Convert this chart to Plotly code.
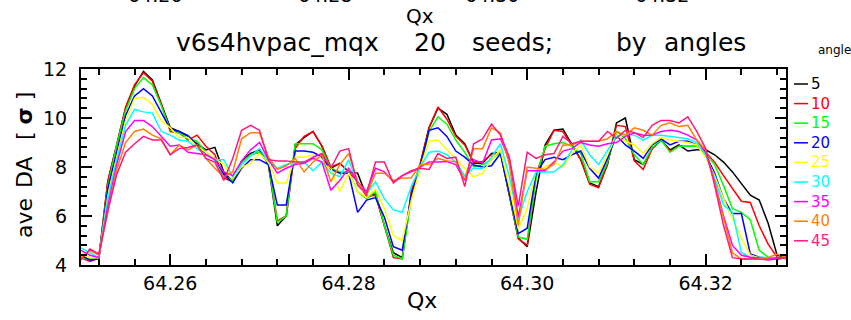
import plotly.graph_objects as go

qx = [round(64.250 + 0.001 * i, 3) for i in range(80)]

angles = ["5", "10", "15", "20", "25", "30", "35", "40", "45"]
colors = ["#000000", "#ff0000", "#00ff00", "#0000ff", "#ffff00",
          "#00ffff", "#ff00ff", "#ff8000", "#ff1a80"]

da_5 = [4.3, 4.25, 4.28, 7.4, 8.9, 10.4, 11.3, 11.9, 11.55, 10.55,
        9.6, 9.45, 9.25, 8.95, 8.7, 8.8, 7.8, 7.4, 8.25, 8.55,
        8.7, 8.1, 5.6, 6.0, 8.9, 9.2, 9.45, 8.85, 7.95, 8.15,
        7.8, 7.75, 6.8, 6.9, 5.6, 4.5, 4.3, 6.85, 8.1, 9.6,
        10.4, 10.15, 9.3, 8.95, 8.15, 8.15, 8.55, 8.6, 6.85, 5.1,
        4.75, 7.0, 8.9, 9.5, 9.55, 8.9, 8.3, 7.35, 7.2, 8.1,
        9.8, 10.0, 8.3, 8.1, 8.75, 9.1, 8.7, 8.9, 8.65, 8.7,
        8.7, 8.5, 8.2, 7.8, 7.3, 6.85, 6.65, 5.7, 4.4, 4.3]
da_10 = [4.3, 4.15, 4.28, 7.4, 8.9, 10.45, 11.35, 11.85, 11.5, 10.55,
         9.45, 9.4, 9.1, 9.3, 8.85, 8.5, 7.55, 7.4, 8.15, 8.5,
         8.6, 8.2, 5.8, 6.0, 8.75, 9.25, 9.45, 8.85, 8.0, 8.15,
         7.8, 7.4, 6.8, 6.85, 5.6, 4.3, 4.25, 7.0, 8.1, 9.6,
         10.45, 9.95, 9.25, 8.9, 8.2, 8.22, 8.5, 8.6, 6.85, 5.07,
         4.8, 7.7, 8.75, 9.5, 9.45, 8.9, 8.3, 7.3, 7.15, 8.15,
         9.7, 9.65, 8.25, 7.9, 8.75, 9.1, 8.65, 8.85, 8.85, 8.85,
         8.6, 8.2, 7.65, 7.15, 6.6, 6.55, 5.6, 4.85, 4.32, 4.25]
da_15 = [4.3, 4.25, 4.28, 7.2, 8.9, 10.3, 11.2, 11.65, 11.35, 10.5,
         9.5, 9.4, 9.15, 9.05, 8.6, 8.3, 7.65, 7.45, 8.15, 8.5,
         8.6, 8.15, 5.75, 6.0, 8.95, 8.95, 8.95, 8.7, 7.95, 7.8,
         7.8, 6.99, 6.7, 7.0, 5.6, 4.4, 4.25, 6.7, 7.95, 9.45,
         10.05, 9.75, 9.1, 8.6, 8.0, 8.1, 8.3, 8.63, 6.85, 5.14,
         5.05, 7.55, 8.85, 8.95, 9.0, 8.85, 8.55, 7.4, 7.4, 8.2,
         9.45, 9.17, 8.5, 8.1, 8.8, 9.1, 8.6, 8.85, 8.85, 8.85,
         8.55, 8.1, 7.25, 6.3, 6.15, 5.85, 4.6, 4.32, 4.25, 4.3]
da_20 = [4.4, 4.2, 4.25, 7.1, 8.6, 10.1, 10.9, 11.2, 10.9, 10.25,
         9.55, 9.45, 9.28, 8.9, 8.5, 8.35, 7.7, 7.35, 7.95, 8.3,
         8.3, 8.1, 6.45, 6.45, 8.65, 8.65, 8.6, 8.4, 7.9, 7.75,
         7.75, 6.15, 6.65, 6.75, 5.95, 4.75, 4.6, 6.85, 8.0, 9.5,
         9.6, 9.25, 8.65, 8.4, 8.08, 8.0, 8.05, 8.55, 6.9, 5.28,
         5.5, 7.75, 8.3, 8.4, 8.3, 8.5, 8.65, 7.95, 7.55, 8.35,
         9.3, 8.9, 8.65, 8.35, 8.9, 9.15, 8.9, 9.05, 9.05, 8.9,
         8.5, 7.75, 6.7, 6.1, 6.1, 4.45, 4.32, 4.3, 4.25, 4.3]
da_25 = [4.5, 4.3, 4.3, 6.8, 8.4, 9.9, 10.8, 10.85, 10.55, 9.9,
         9.6, 9.2, 9.2, 8.85, 8.6, 8.35, 8.1, 7.55, 8.0, 8.15,
         8.55, 8.2, 7.35, 7.35, 8.4, 8.4, 8.5, 8.15, 7.95, 7.0,
         7.75, 6.99, 6.75, 7.1, 6.3, 5.2, 5.0, 6.6, 7.95, 9.05,
         9.1, 8.7, 8.35, 7.95, 7.6, 7.75, 8.3, 8.7, 7.2, 5.48,
         6.3, 7.85, 8.0, 8.2, 8.0, 8.55, 8.9, 8.0, 7.75, 8.5,
         9.3, 9.05, 8.9, 8.55, 8.95, 9.2, 9.1, 9.05, 9.0, 8.9,
         8.4, 7.65, 6.7, 5.9, 5.1, 4.4, 4.3, 4.3, 4.3, 4.3]
da_30 = [4.7, 4.5, 4.3, 6.7, 8.3, 9.7, 10.35, 10.25, 10.2, 9.45,
         9.3, 9.1, 9.05, 8.75, 8.5, 8.3, 8.3, 7.6, 8.1, 8.45,
         8.75, 8.25, 7.95, 8.1, 8.15, 8.2, 7.85, 8.2, 7.75, 7.6,
         8.3, 7.25, 6.9, 7.4, 6.7, 6.25, 6.15, 7.2, 8.0, 8.6,
         8.65, 8.5, 8.2, 7.65, 7.95, 7.95, 8.4, 8.95, 7.6, 5.89,
         7.0, 7.8, 7.8, 7.8, 8.08, 8.7, 9.1, 8.5, 8.1, 8.7,
         9.25, 9.35, 9.3, 9.1, 9.3, 9.3, 9.25, 9.2, 9.15, 9.0,
         8.5, 7.55, 6.45, 6.15, 4.5, 4.32, 4.3, 4.3, 4.3, 4.3]
da_35 = [4.6, 4.4, 4.3, 6.4, 8.1, 9.45, 9.9, 9.9, 9.65, 9.25,
         8.85, 8.9, 8.6, 8.55, 8.5, 8.3, 7.8, 7.65, 8.25, 8.7,
         9.0, 8.3, 7.75, 7.95, 8.1, 8.15, 8.35, 8.2, 7.05, 7.45,
         7.95, 7.4, 7.0, 7.95, 7.8, 7.4, 7.65, 7.8, 8.0, 8.2,
         8.2, 8.22, 8.1, 7.45, 8.3, 8.15, 9.1, 9.15, 8.3, 5.96,
         7.85, 7.85, 7.85, 8.2, 8.65, 8.75, 9.0, 8.9, 8.85, 8.95,
         9.0, 9.25, 9.4, 9.3, 9.3, 9.45, 9.5, 9.45, 9.3, 9.1,
         8.6, 7.4, 6.0, 4.8, 4.4, 4.32, 4.3, 4.25, 4.3, 4.3]
da_40 = [4.3, 4.6, 4.4, 6.2, 7.9, 9.0, 9.45, 9.55, 9.3, 9.15,
         8.5, 8.9, 8.7, 8.9, 8.35, 7.95, 7.6, 7.8, 9.15, 9.4,
         9.4, 8.4, 7.9, 8.05, 8.35, 7.8, 8.2, 8.5, 7.4, 8.1,
         8.55, 7.4, 6.85, 7.75, 7.75, 7.45, 7.55, 7.55, 8.1, 8.1,
         8.35, 8.25, 8.22, 7.5, 8.75, 8.75, 9.6, 9.4, 8.1, 5.62,
         8.0, 7.95, 7.9, 8.1, 8.9, 8.9, 9.05, 9.05, 9.05, 9.15,
         9.45, 9.3, 9.6, 9.5, 9.3, 9.7, 9.8, 9.65, 9.7, 9.1,
         8.7, 7.35, 5.9, 4.5, 4.25, 4.25, 4.25, 4.3, 4.45, 4.3]
da_45 = [4.2, 4.65, 4.45, 6.2, 7.7, 8.6, 8.95, 9.25, 9.1, 9.1,
         8.5, 8.75, 8.8, 8.9, 8.35, 8.2, 7.45, 8.35, 9.5, 9.7,
         9.5, 8.3, 8.25, 8.25, 8.2, 8.2, 8.4, 8.55, 7.95, 8.65,
         8.75, 7.25, 6.9, 8.2, 8.2, 7.35, 7.65, 7.85, 7.95, 7.9,
         8.55, 8.35, 8.4, 7.2, 8.95, 9.15, 9.75, 9.3, 8.4, 6.4,
         8.6, 8.35, 8.5, 8.55, 9.25, 8.95, 9.05, 9.05, 9.05, 9.45,
         9.17, 9.5, 9.4, 9.2, 9.7, 9.9, 9.9, 9.8, 10.05, 9.45,
         8.75, 7.25, 5.62, 4.3, 4.25, 4.25, 4.25, 4.2, 4.25, 4.3]

series = [da_5, da_10, da_15, da_20, da_25, da_30, da_35, da_40, da_45]

x_ticks = [64.26, 64.28, 64.30, 64.32]
x_ticklabels = ["64.26", "64.28", "64.30", "64.32"]
y_ticks = [4, 6, 8, 10, 12]

title_words = ["v6s4hvpac_mqx", "20", "seeds;", "by", "angles"]
ytitle_words = ["ave", "DA", "[ <b>σ</b> ]"]

FONT = "DejaVu Sans"
W, H = 851, 320
ML, MR, MT, MB = 81, 65, 69, 55
ph = H - MT - MB


def py(p):
    return (H - MB - p) / ph


def px(p):
    return (p - ML) / (W - ML - MR)


fig = go.Figure()
for name, vals, col in zip(angles, series, colors):
    fig.add_trace(go.Scatter(x=qx, y=vals, mode="lines", name=name,
                             line=dict(color=col, width=1.5),
                             showlegend=False))

axis_common = dict(showline=True, linecolor="black", linewidth=2,
                   mirror="ticks", ticks="inside", ticklen=11, tickwidth=2,
                   tickcolor="black", showgrid=False, zeroline=False,
                   tickfont=dict(family=FONT, size=19, color="black"))

fig.update_xaxes(range=[64.25, 64.329], tickvals=x_ticks,
                 ticktext=x_ticklabels,
                 minor=dict(dtick=0.004, tick0=64.26, ticks="inside",
                            ticklen=6, tickwidth=1.5, tickcolor="black"),
                 **axis_common)
fig.update_yaxes(range=[4, 12], tickvals=y_ticks, ticklabelstandoff=8,
                 minor=dict(dtick=0.4, tick0=4, ticks="inside",
                            ticklen=6, tickwidth=1.5, tickcolor="black"),
                 **axis_common)


def note(text, x, y, size, color="black", xanchor="center", **kw):
    return dict(text=text, x=px(x), y=py(y), xref="paper", yref="paper",
                xanchor=xanchor, yanchor="middle", showarrow=False,
                font=dict(family=FONT, size=size, color=color), **kw)


ann = []
ann.append(note("Qx", 422, 300, 22))
for word, cy in zip(ytitle_words, [218, 172, 116]):
    ann.append(note(word, 24, cy, 22, textangle=-90))
for word, cx in zip(title_words, [277, 430, 512, 631, 705]):
    ann.append(note(word, cx, 43, 25))
# remnants of the panel above
ann.append(note("Qx", 420, 16, 20))
for cx, lab in zip([155, 325, 492, 662], x_ticklabels):
    ann.append(note(lab, cx, -5, 19))
# legend
ann.append(note("angle", 834, 50, 12))
shapes = []
for k, (name, col) in enumerate(zip(angles, colors)):
    yy = 84 + 19.6 * k
    shapes.append(dict(type="line", xref="paper", yref="paper",
                       x0=px(794), x1=px(808), y0=py(yy), y1=py(yy),
                       line=dict(color=col, width=1.5)))
    ann.append(note(name, 809, yy, 15, color=col, xanchor="left"))

fig.update_layout(width=W, height=H, margin=dict(l=ML, r=MR, t=MT, b=MB),
                  paper_bgcolor="white", plot_bgcolor="white",
                  annotations=ann, shapes=shapes, showlegend=False)

fig.write_html("out.html")
